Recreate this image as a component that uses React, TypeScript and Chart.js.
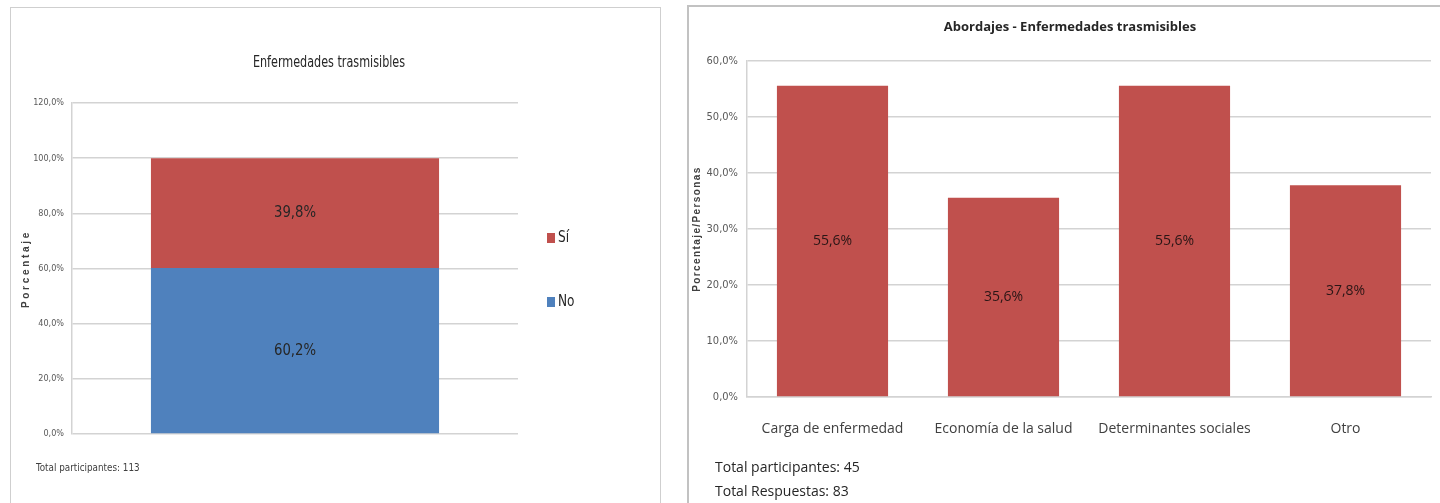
import React, { useEffect, useRef } from 'react';
import { Chart, registerables } from 'chart.js';

Chart.register(...registerables);

// "Enfermedades trasmisibles": single stacked column, share of participants
const shareCategories = [''];
const shareNo = [60.2];
const shareSi = [39.8];
const shareAxisMax = 120;
const shareAxisStep = 20;
const shareNotes = ['Total participantes: 113'];

// "Abordajes - Enfermedades trasmisibles": one column per approach
const approachCategories = ['Carga de enfermedad', 'Economía de la salud', 'Determinantes sociales', 'Otro'];
const approachValues = [55.6, 35.6, 55.6, 37.8];
const approachAxisMax = 60;
const approachAxisStep = 10;
const approachNotes = ['Total participantes: 45', 'Total Respuestas: 83'];

const RED = '#C0504D';
const BLUE = '#4F81BD';
const GRID = '#d3d3d3';
const NARROW = "'Liberation Sans Narrow', 'DejaVu Sans Condensed', 'Arial Narrow', sans-serif";
const SANS = "'Open Sans', 'Noto Sans', sans-serif";
const BOLD_SANS = "'Liberation Sans', Arial, sans-serif";

const pct = (v: number) => v.toFixed(1).replace('.', ',') + '%';

// Free text (titles, axis titles, footnotes) and an optional hand-placed legend
const sheetText = {
  id: 'sheetText',
  afterDraw(chart: any, _args: any, opts: any) {
    const ctx = chart.ctx;
    (opts.items || []).forEach((it: any) => {
      ctx.save();
      ctx.font = it.font;
      ctx.fillStyle = it.color;
      ctx.textAlign = it.align || 'left';
      ctx.textBaseline = 'middle';
      if (it.spacing) (ctx as any).letterSpacing = it.spacing + 'px';
      ctx.translate(it.x, it.y);
      if (it.rotate) ctx.rotate(it.rotate);
      ctx.scale(it.sx || 1, 1);
      ctx.fillText(it.text, 0, 0);
      ctx.restore();
    });
    const lg = opts.legend;
    if (lg) {
      lg.order.forEach((dsIndex: number, i: number) => {
        const ds = chart.data.datasets[dsIndex];
        const y = lg.y + i * lg.gap;
        ctx.save();
        ctx.fillStyle = ds.backgroundColor;
        ctx.fillRect(lg.x, y - lg.box / 2, lg.boxWidth, lg.box);
        ctx.font = lg.font;
        ctx.fillStyle = lg.color;
        ctx.textAlign = 'left';
        ctx.textBaseline = 'middle';
        ctx.translate(lg.x + lg.boxWidth + 3, y);
        ctx.scale(lg.sx || 1, 1);
        ctx.fillText(ds.label, 0, 0);
        ctx.restore();
      });
    }
  },
};

// Value label in the middle of every bar segment
const barValues = {
  id: 'barValues',
  afterDatasetsDraw(chart: any, _args: any, opts: any) {
    const ctx = chart.ctx;
    chart.data.datasets.forEach((ds: any, di: number) => {
      const meta = chart.getDatasetMeta(di);
      meta.data.forEach((el: any, i: number) => {
        const v = ds.data[i];
        ctx.save();
        ctx.font = opts.font;
        ctx.fillStyle = opts.color;
        ctx.textAlign = 'center';
        ctx.textBaseline = 'middle';
        ctx.translate(el.x, (el.y + el.base) / 2);
        ctx.scale(opts.sx || 1, 1);
        ctx.fillText(pct(v), 0, 0);
        ctx.restore();
      });
    });
  },
};

function ShareChart() {
  const ref = useRef<HTMLCanvasElement>(null);
  useEffect(() => {
    const chart = new Chart(ref.current!, {
      type: 'bar',
      data: {
        labels: shareCategories,
        datasets: [
          { label: 'No', data: shareNo, backgroundColor: BLUE },
          { label: 'Sí', data: shareSi, backgroundColor: RED },
        ],
      },
      plugins: [sheetText, barValues],
      options: {
        responsive: false,
        animation: false,
        layout: { padding: { left: 8, top: 95, right: 141, bottom: 69 } },
        datasets: { bar: { barPercentage: 0.646, categoryPercentage: 1 } },
        scales: {
          x: {
            stacked: true,
            ticks: { display: false },
            grid: { display: false },
            border: { display: false },
            afterFit: (s: any) => { s.height = 0; },
          },
          y: {
            stacked: true,
            min: 0,
            max: shareAxisMax,
            ticks: {
              stepSize: shareAxisStep,
              padding: 8,
              color: '#595959',
              font: { family: NARROW, size: 9 },
              callback: (v: any) => pct(Number(v)),
            },
            grid: { color: GRID, lineWidth: 1.5, drawTicks: false },
            border: { display: true, color: GRID, width: 1.5 },
            afterFit: (s: any) => { s.width = 53; },
          },
        },
        plugins: {
          legend: { display: false },
          tooltip: { enabled: false },
          sheetText: {
            items: [
              { text: 'Enfermedades trasmisibles', x: 318, y: 55, align: 'center', sx: 0.83, font: `15px ${NARROW}`, color: '#262626' },
              { text: 'Porcentaje', x: 15, y: 261, align: 'center', rotate: -Math.PI / 2, spacing: 2.7, font: `bold 10px ${BOLD_SANS}`, color: '#404040' },
              ...shareNotes.map((t, i) => ({ text: t, x: 25, y: 460 + i * 22, sx: 0.89, font: `11px ${NARROW}`, color: '#404040' })),
            ],
            legend: { order: [1, 0], x: 536, y: 230, gap: 64, box: 10, boxWidth: 8, sx: 0.9, font: `15px ${NARROW}`, color: '#262626' },
          },
          barValues: { font: `16px ${NARROW}`, sx: 0.92, color: '#262626' },
        } as any,
      },
    } as any);
    return () => chart.destroy();
  }, []);
  return <canvas ref={ref} width={648} height={495} style={{ position: 'absolute', left: 11, top: 8, width: 648, height: 495 }} />;
}

function ApproachChart() {
  const ref = useRef<HTMLCanvasElement>(null);
  useEffect(() => {
    const chart = new Chart(ref.current!, {
      type: 'bar',
      data: {
        labels: approachCategories,
        datasets: [{ label: 'Abordajes', data: approachValues, backgroundColor: RED }],
      },
      plugins: [sheetText, barValues],
      options: {
        responsive: false,
        animation: false,
        layout: { padding: { left: 2, top: 54, right: 9, bottom: 66 } },
        datasets: { bar: { barPercentage: 0.65, categoryPercentage: 1 } },
        scales: {
          x: {
            ticks: { padding: 16, color: '#404040', font: { family: SANS, size: 14 } },
            grid: { display: false },
            border: { display: true, color: GRID, width: 1.5 },
            afterFit: (s: any) => { s.height = 40; },
          },
          y: {
            min: 0,
            max: approachAxisMax,
            ticks: {
              stepSize: approachAxisStep,
              padding: 9,
              color: '#595959',
              font: { family: NARROW, size: 11 },
              callback: (v: any) => pct(Number(v)),
            },
            grid: { color: GRID, lineWidth: 1.5, drawTicks: false },
            border: { display: true, color: GRID, width: 1.5 },
            afterFit: (s: any) => { s.width = 56; },
          },
        },
        plugins: {
          legend: { display: false },
          tooltip: { enabled: false },
          sheetText: {
            items: [
              { text: 'Abordajes - Enfermedades trasmisibles', x: 381, y: 20, align: 'center', font: `bold 13px ${SANS}`, color: '#262626' },
              { text: 'Porcentaje/Personas', x: 8, y: 222, align: 'center', rotate: -Math.PI / 2, spacing: 1.4, font: `bold 10px ${BOLD_SANS}`, color: '#404040' },
              ...approachNotes.map((t, i) => ({ text: t, x: 26, y: 461 + i * 24, font: `14px ${SANS}`, color: '#262626' })),
            ],
          },
          barValues: { font: `14px ${SANS}`, color: '#2a1616' },
        } as any,
      },
    } as any);
    return () => chart.destroy();
  }, []);
  return <canvas ref={ref} width={751} height={496} style={{ position: 'absolute', left: 689, top: 7, width: 751, height: 496 }} />;
}

export default function App() {
  return (
    <div style={{ position: 'absolute', left: 0, top: 0, width: 1440, height: 503, overflow: 'hidden', background: '#ffffff' }}>
      <div style={{ position: 'absolute', left: 10, top: 7, width: 651, height: 520, boxSizing: 'border-box', border: '1.5px solid #cfcfcf' }} />
      <div style={{ position: 'absolute', left: 687, top: 5, width: 800, height: 520, boxSizing: 'border-box', border: '2px solid #c2c2c2' }} />
      <ShareChart />
      <ApproachChart />
    </div>
  );
}
